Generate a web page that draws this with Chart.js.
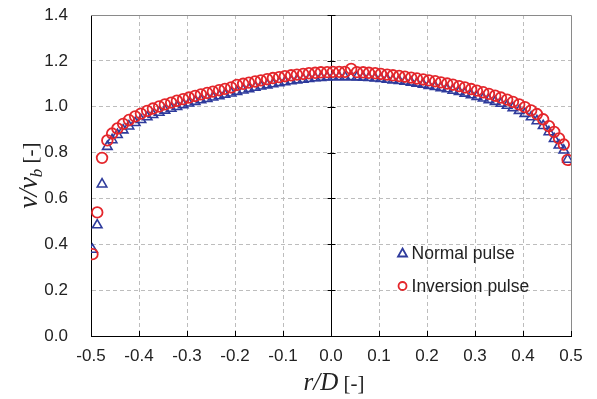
<!DOCTYPE html>
<html>
<head>
<meta charset="utf-8">
<script src="https://cdn.jsdelivr.net/npm/chart.js@4"></script>
<style>
  html, body { margin: 0; background: #fff; }
</style>
</head>
<body>
<canvas id="chart" width="597" height="399"></canvas>
<script>
// radial position r/D
const rD = [
  -0.497, -0.487, -0.477, -0.466, -0.456, -0.445, -0.433, -0.421, -0.408, -0.396,
  -0.383, -0.371, -0.358, -0.346, -0.333, -0.321, -0.308, -0.296, -0.283, -0.271,
  -0.258, -0.246, -0.233, -0.221, -0.208, -0.196, -0.183, -0.171, -0.158, -0.146,
  -0.133, -0.121, -0.108, -0.096, -0.083, -0.071, -0.058, -0.046, -0.033, -0.021,
  -0.008, 0.004, 0.017, 0.029, 0.042, 0.054, 0.067, 0.079, 0.092, 0.104,
  0.117, 0.129, 0.142, 0.154, 0.167, 0.179, 0.192, 0.204, 0.217, 0.229,
  0.242, 0.254, 0.267, 0.279, 0.292, 0.304, 0.317, 0.329, 0.342, 0.354,
  0.367, 0.379, 0.392, 0.404, 0.417, 0.429, 0.442, 0.454, 0.465, 0.475,
  0.485, 0.493
];

// v/vb, normal pulse (blue triangles)
const normalPulse = [
  0.377, 0.484, 0.662, 0.826, 0.855, 0.878, 0.898, 0.915, 0.930, 0.943,
  0.955, 0.965, 0.975, 0.984, 0.992, 1.000, 1.008, 1.015, 1.022, 1.029,
  1.035, 1.041, 1.047, 1.053, 1.059, 1.066, 1.072, 1.078, 1.084, 1.089,
  1.094, 1.099, 1.104, 1.108, 1.112, 1.116, 1.119, 1.122, 1.125, 1.127,
  1.129, 1.130, 1.130, 1.130, 1.130, 1.129, 1.128, 1.126, 1.124, 1.122,
  1.119, 1.116, 1.113, 1.110, 1.106, 1.102, 1.097, 1.092, 1.087, 1.082,
  1.077, 1.071, 1.065, 1.058, 1.051, 1.044, 1.037, 1.030, 1.022, 1.014,
  1.005, 0.995, 0.983, 0.970, 0.955, 0.938, 0.917, 0.890, 0.860, 0.832,
  0.810, 0.770
];

// v/vb, inversion pulse (red circles)
const inversionPulse = [
  0.357, 0.539, 0.777, 0.853, 0.883, 0.905, 0.925, 0.942, 0.958, 0.970,
  0.982, 0.992, 1.001, 1.010, 1.018, 1.026, 1.033, 1.040, 1.047, 1.054,
  1.060, 1.066, 1.072, 1.078, 1.084, 1.095, 1.100, 1.105, 1.110, 1.115,
  1.120, 1.125, 1.129, 1.133, 1.137, 1.140, 1.143, 1.146, 1.148, 1.150,
  1.151, 1.152, 1.152, 1.152, 1.165, 1.151, 1.150, 1.148, 1.146, 1.143,
  1.140, 1.137, 1.134, 1.131, 1.127, 1.123, 1.119, 1.115, 1.111, 1.106,
  1.101, 1.096, 1.090, 1.084, 1.077, 1.070, 1.063, 1.056, 1.048, 1.040,
  1.031, 1.021, 1.010, 0.998, 0.984, 0.968, 0.945, 0.915, 0.890, 0.862,
  0.835, 0.768
];

const xTicks = [-0.5, -0.4, -0.3, -0.2, -0.1, 0.0, 0.1, 0.2, 0.3, 0.4, 0.5];
const yTicks = [0.0, 0.2, 0.4, 0.6, 0.8, 1.0, 1.2, 1.4];
const seriesNames = ["Normal pulse", "Inversion pulse"];

const BLUE = "#2e3b9c";
const RED = "#e4262b";
const GRID = "#bdbdbd";
const TEXT = "#222";
const NONE = "rgba(0,0,0,0)";

function toPoints(ys) {
  return rD.map((x, i) => ({ x: x, y: ys[i] }));
}

function near(a, b) { return Math.abs(a - b) < 1e-9; }

// axes extras, titles and legend
const decorations = {
  id: "decorations",
  beforeDatasetsDraw(chart) {
    const ctx = chart.ctx;
    const a = chart.chartArea;
    const sx = chart.scales.x, sy = chart.scales.y;
    ctx.save();
    // top and right border
    ctx.strokeStyle = "#8a8a8a";
    ctx.lineWidth = 1;
    ctx.beginPath();
    ctx.moveTo(a.left, a.top + 0.5);
    ctx.lineTo(a.right + 0.5, a.top + 0.5);
    ctx.lineTo(a.right + 0.5, a.bottom);
    ctx.stroke();
    // center line with tick marks
    const cx = Math.round(sx.getPixelForValue(0)) + 0.5;
    ctx.strokeStyle = "#000";
    ctx.beginPath();
    ctx.moveTo(cx, a.top);
    ctx.lineTo(cx, a.bottom);
    yTicks.forEach(v => {
      const y = Math.round(sy.getPixelForValue(v)) + 0.5;
      ctx.moveTo(cx - 4, y);
      ctx.lineTo(cx + 4, y);
    });
    // inward ticks on the x axis
    xTicks.forEach(v => {
      const x = Math.round(sx.getPixelForValue(v)) + 0.5;
      ctx.moveTo(x, a.bottom);
      ctx.lineTo(x, a.bottom - 5);
    });
    ctx.stroke();
    ctx.restore();
  },
  afterDraw(chart) {
    const ctx = chart.ctx;
    const a = chart.chartArea;
    ctx.save();
    ctx.fillStyle = TEXT;
    ctx.textBaseline = "alphabetic";

    // x title: r/D [-]
    const xi = "italic 25px 'Liberation Serif'";
    const xn = "21px 'Liberation Serif'";
    ctx.font = xi;
    const w1 = ctx.measureText("r/D").width;
    ctx.font = xn;
    const w2 = ctx.measureText(" [-]").width;
    const x0 = (a.left + a.right) / 2 - (w1 + w2) / 2 + 3;
    const yb = 390;
    ctx.font = xi;
    ctx.fillText("r/D", x0, yb);
    ctx.font = xn;
    ctx.fillText(" [-]", x0 + w1, yb);

    // y title: v/v_b [-]
    ctx.translate(37, (a.top + a.bottom) / 2);
    ctx.rotate(-Math.PI / 2);
    const f1 = "italic 27px 'Liberation Serif'";
    const f2 = "italic 17px 'Liberation Serif'";
    const f3 = "21px 'Liberation Serif'";
    ctx.font = f1;
    const p1 = ctx.measureText("v/v").width;
    ctx.font = f2;
    const p2 = ctx.measureText("b").width;
    ctx.font = f3;
    const p3 = ctx.measureText(" [-]").width;
    const s = -(p1 + p2 + p3) / 2;
    ctx.font = f1;
    ctx.fillText("v/v", s, 0);
    ctx.font = f2;
    ctx.fillText("b", s + p1, 5);
    ctx.font = f3;
    ctx.fillText(" [-]", s + p1 + p2, 0);
    ctx.restore();

    // legend
    ctx.save();
    const lx = a.left + (a.right - a.left) * 0.649;
    const ly = [a.top + 238, a.top + 271];
    ctx.lineWidth = 1.8;
    ctx.strokeStyle = BLUE;
    ctx.beginPath();
    ctx.moveTo(lx, ly[0] - 4.5);
    ctx.lineTo(lx + 4.5, ly[0] + 3.5);
    ctx.lineTo(lx - 4.5, ly[0] + 3.5);
    ctx.closePath();
    ctx.stroke();
    ctx.strokeStyle = RED;
    ctx.beginPath();
    ctx.arc(lx, ly[1], 4, 0, Math.PI * 2);
    ctx.stroke();
    ctx.fillStyle = TEXT;
    ctx.font = "17.5px 'Liberation Sans'";
    ctx.textBaseline = "alphabetic";
    ctx.fillText(seriesNames[0], lx + 9, ly[0] + 6);
    ctx.fillText(seriesNames[1], lx + 9, ly[1] + 6);
    ctx.restore();
  }
};

new Chart(document.getElementById("chart").getContext("2d"), {
  type: "scatter",
  data: {
    datasets: [{
      label: seriesNames[0],
      data: toPoints(normalPulse),
      pointStyle: "triangle",
      pointRadius: 5.5,
      borderColor: BLUE,
      borderWidth: 1.6,
      backgroundColor: NONE,
      order: 2
    }, {
      label: seriesNames[1],
      data: toPoints(inversionPulse),
      pointStyle: "circle",
      pointRadius: 5.3,
      borderColor: RED,
      borderWidth: 1.8,
      backgroundColor: NONE,
      order: 1
    }]
  },
  options: {
    responsive: false,
    animation: false,
    devicePixelRatio: 1,
    layout: { padding: { top: 15, right: 26, bottom: 0, left: 0 } },
    plugins: {
      legend: { display: false },
      tooltip: { enabled: false }
    },
    scales: {
      x: {
        type: "linear",
        min: -0.5,
        max: 0.5,
        afterBuildTicks: s => { s.ticks = xTicks.map(v => ({ value: v })); },
        afterFit: s => { s.height = 63; },
        ticks: {
          padding: 10,
          color: TEXT,
          font: { family: "'Liberation Sans'", size: 17 },
          callback: v => v.toFixed(1)
        },
        grid: {
          drawTicks: false,
          color: c => c.tick && (near(c.tick.value, 0) || near(Math.abs(c.tick.value), 0.5)) ? NONE : GRID
        },
        border: { color: "#000", width: 1, dash: [4, 3] }
      },
      y: {
        type: "linear",
        min: 0,
        max: 1.4,
        afterBuildTicks: s => { s.ticks = yTicks.map(v => ({ value: v })); },
        afterFit: s => { s.width = 91; s.paddingTop = 0; s.paddingBottom = 0; },
        ticks: {
          padding: 23,
          color: TEXT,
          font: { family: "'Liberation Sans'", size: 17 },
          callback: v => v.toFixed(1)
        },
        grid: {
          drawTicks: false,
          color: c => c.tick && (near(c.tick.value, 0) || near(c.tick.value, 1.4)) ? NONE : GRID
        },
        border: { color: "#000", width: 1, dash: [4, 3] }
      }
    }
  },
  plugins: [decorations]
});
</script>
</body>
</html>
